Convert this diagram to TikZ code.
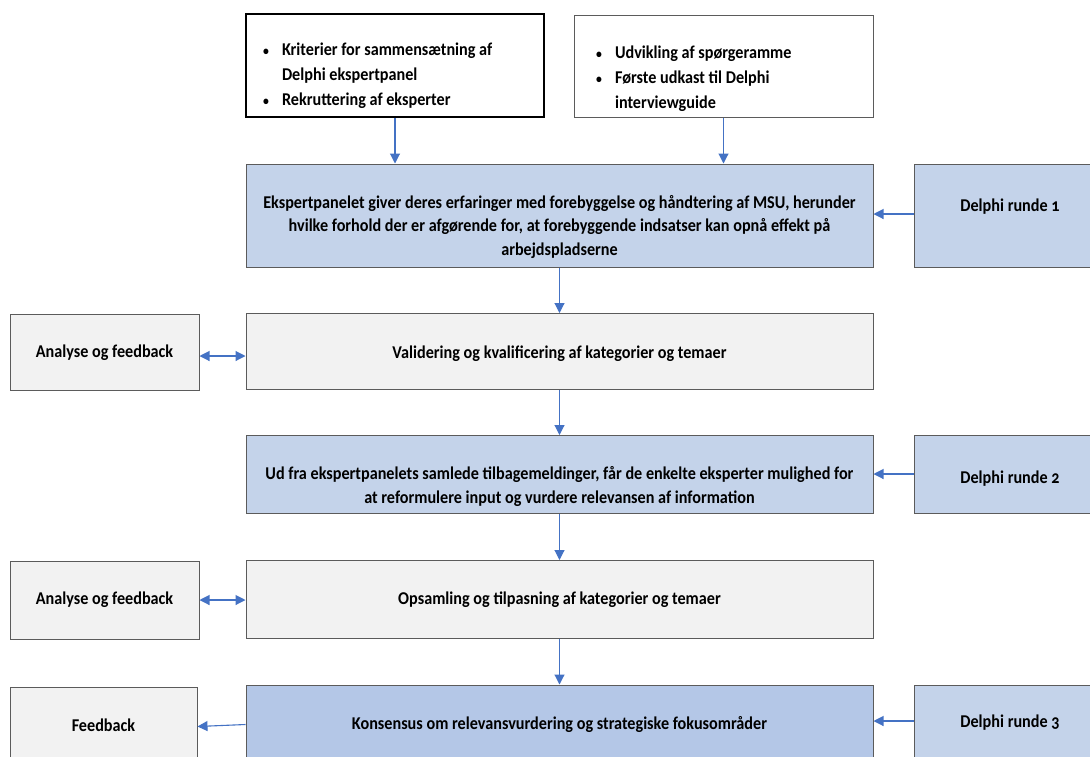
\documentclass[tikz,border=0pt]{standalone}
\usepackage{fontspec}
\setmainfont{Carlito}[FakeStretch=0.9]
\usetikzlibrary{arrows.meta}
\definecolor{bluefill}{HTML}{C4D3EA}
\definecolor{bluefillB}{HTML}{B4C7E7}
\definecolor{grayfill}{HTML}{F2F2F2}
\definecolor{edgegray}{HTML}{5B5B5B}
\definecolor{arrowblue}{HTML}{4472C4}
\newcommand{\bxfont}{\bfseries\fontsize{18}{23.5}\selectfont}
\newcommand{\tpfont}{\bfseries\fontsize{18}{25}\selectfont}
\newcommand{\onum}{\addfontfeatures{Numbers=OldStyle}}
\newcommand{\bul}{{\fontsize{13}{25}\selectfont\textbullet}}
\begin{document}
\begin{tikzpicture}[x=1pt,y=-1pt,
  box/.style={draw=edgegray, line width=1pt, inner sep=0pt},
  bluebox/.style={box, fill=bluefill},
  bluebox2/.style={box, fill=bluefillB},
  graybox/.style={box, fill=grayfill},
  whitebox/.style={box, fill=white},
  lbl/.style={inner sep=0pt, align=center, font=\bxfont},
  txt/.style={inner sep=0pt, align=left, font=\tpfont, anchor=north west},
  arr/.style={draw=arrowblue, line width=1.1pt, -{Triangle[length=10pt,width=10pt]}},
  dbl/.style={draw=arrowblue, line width=1.1pt, {Triangle[length=10pt,width=10pt]}-{Triangle[length=10pt,width=10pt]}}
]
\useasboundingbox[fill=white] (0,0) rectangle (1090,756);

% top boxes
\node[whitebox, draw=black, line width=2pt, minimum width=298pt, minimum height=103pt] (tl) at (395,65.5) {};
\node[whitebox, minimum width=299pt, minimum height=102pt] (tr) at (723.5,66) {};
\node[txt] (tltext) at (263,38) {\begin{tabular}{@{}l@{\hspace{13pt}}l@{}}\bul & Kriterier for sammensætning af\\ & Delphi ekspertpanel\\ \bul & Rekruttering af eksperter\end{tabular}};
\node[txt] (trtext) at (596,41) {\begin{tabular}{@{}l@{\hspace{13pt}}l@{}}\bul & Udvikling af spørgeramme\\ \bul & Første udkast til Delphi\\ & interviewguide\end{tabular}};

% main column boxes
\node[bluebox, minimum width=627pt, minimum height=103pt] (b1) at (559.5,215.5) {};
\node[graybox, minimum width=627pt, minimum height=76pt] (b2) at (559.5,351.5) {};
\node[bluebox, minimum width=627pt, minimum height=78pt] (b3) at (559.5,474.5) {};
\node[graybox, minimum width=627pt, minimum height=78pt] (b4) at (559.5,599.5) {};
\node[bluebox2, minimum width=627pt, minimum height=84pt] (b5) at (559.5,727) {};

% left column boxes
\node[graybox, minimum width=189pt, minimum height=76pt] (a1) at (104.5,352) {};
\node[graybox, minimum width=189pt, minimum height=78pt] (a2) at (104.5,600) {};
\node[graybox, minimum width=187pt, minimum height=82pt] (f) at (103.5,728) {};

% right column boxes
\node[bluebox, minimum width=192pt, minimum height=103pt] (d1) at (1010,215.5) {};
\node[bluebox, minimum width=192pt, minimum height=78pt] (d2) at (1010,474.5) {};
\node[bluebox, minimum width=192pt, minimum height=84pt] (d3) at (1010,727) {};

% labels
\node[lbl] (b1t) at (559.5,226.5) {Ekspertpanelet giver deres erfaringer med forebyggelse og håndtering af MSU, herunder\\ hvilke forhold der er afgørende for, at forebyggende indsatser kan opnå effekt på\\ arbejdspladserne};
\node[lbl] (b2t) at (559.5,354) {Validering og kvalificering af kategorier og temaer};
\node[lbl] (b3t) at (559.5,486.5) {Ud fra ekspertpanelets samlede tilbagemeldinger, får de enkelte eksperter mulighed for\\ at reformulere input og vurdere relevansen af information};
\node[lbl] (b4t) at (559.5,600) {Opsamling og tilpasning af kategorier og temaer};
\node[lbl] (b5t) at (559.5,724) {Konsensus om relevansvurdering og strategiske fokusområder};
\node[lbl] (a1t) at (104.5,353) {Analyse og feedback};
\node[lbl] (a2t) at (104.5,600) {Analyse og feedback};
\node[lbl] (ft) at (103.5,725) {Feedback};
\node[lbl] (d1t) at (1010,207) {Delphi runde {\onum 1}};
\node[lbl] (d2t) at (1010,479) {Delphi runde {\onum 2}};
\node[lbl] (d3t) at (1010,723) {Delphi runde {\onum 3}};

% connectors
\draw[arr] (tl.south) -- (tl.south |- b1.north);
\draw[arr] (tr.south) -- (tr.south |- b1.north);
\draw[arr] (d1.west |- 0,214) -- (b1.east |- 0,214);
\draw[arr] (b1.south) -- (b2.north);
\draw[dbl] (a1.east |- 0,356) -- (b2.west |- 0,356);
\draw[arr] (b2.south) -- (b3.north);
\draw[arr] (d2.west |- 0,474) -- (b3.east |- 0,474);
\draw[arr] (b3.south) -- (b4.north);
\draw[dbl] (a2.east |- 0,600) -- (b4.west |- 0,600);
\draw[arr] (b4.south) -- (b5.north);
\draw[arr] (b5.west |- 0,724.5) -- (f.east |- 0,726.5);
\draw[arr] (d3.west |- 0,721) -- (b5.east |- 0,721);
\end{tikzpicture}
\end{document}
